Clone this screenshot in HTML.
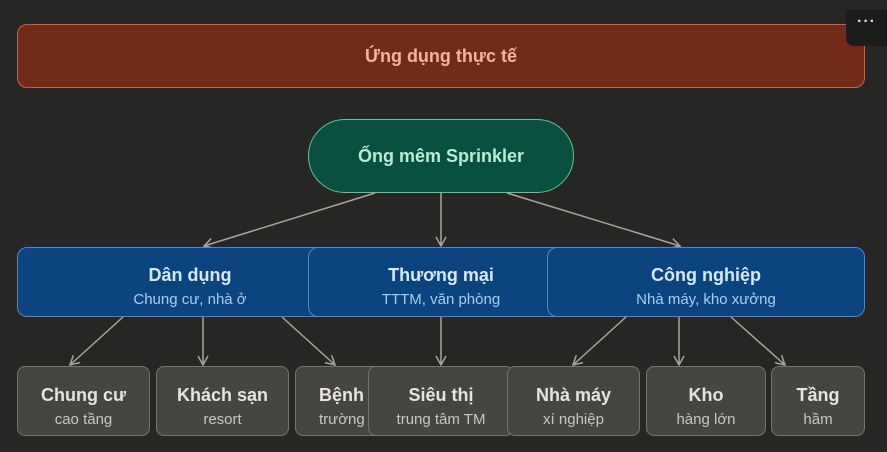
<!DOCTYPE html>
<html><head><meta charset="utf-8"><style>
body{margin:0;width:887px;height:452px;background:#262624;overflow:hidden;font-family:"Liberation Sans","DejaVu Sans",sans-serif;position:relative}
.b{position:absolute;box-sizing:border-box;display:flex;flex-direction:column;align-items:center;justify-content:center;text-align:center}
.top{left:17px;top:24px;width:848px;height:64px;background:#722b16;border:1px solid #c0654a;border-radius:10px;color:#f2b49c;font-size:18px;font-weight:bold}
.root{left:308px;top:119px;width:266px;height:74px;background:#0a5040;border:1.5px solid #5cc49c;border-radius:37px;color:#b8ecd6;font-size:18px;font-weight:bold}
.mid{top:247px;height:70px;padding-top:8px;background:#0c4480;border:1px solid #4f86c6;border-radius:10px;color:#d6e8fa}
.mid .t{font-size:18px;font-weight:bold;margin-bottom:5px}
.mid .s{font-size:15px;color:#a9cdf2}
.bot{top:366px;height:70px;padding-top:10px;background:#464641;border:1px solid #74736c;border-radius:8px;color:#e6e4dc}
.bot .t{font-size:18px;font-weight:bold;margin-bottom:5px}
.bot .s{font-size:15px;color:#c8c6bd}
.menu{position:absolute;left:846px;top:10px;width:41px;height:36px;background:#1c1c1b;border-radius:0 0 0 8px;color:#ddd;font-size:16px;text-align:center;line-height:24px;font-weight:bold;letter-spacing:1px}
svg{position:absolute;left:0;top:0}
</style></head><body>
<div class="b top">Ứng dụng thực tế</div>
<div class="menu">···</div>
<div class="b root">Ống mêm Sprinkler</div>
<svg width="887" height="452">
<defs><marker id="a" markerWidth="12" markerHeight="12" refX="10" refY="6" orient="auto" markerUnits="userSpaceOnUse"><path d="M1,1 L10,6 L1,11" fill="none" stroke="#a8a59c" stroke-width="1.5"/></marker></defs>
<g stroke="#a8a59c" stroke-width="1.5" fill="none" marker-end="url(#a)">
<line x1="375" y1="193" x2="204" y2="246"/>
<line x1="441" y1="193" x2="441" y2="246"/>
<line x1="507" y1="193" x2="680" y2="246"/>
</g></svg>
<div class="b mid" style="left:17px;width:346px"><div class="t">Dân dụng</div><div class="s">Chung cư, nhà ở</div></div>
<div class="b mid" style="left:308px;width:266px"><div class="t">Thương mại</div><div class="s">TTTM, văn phòng</div></div>
<div class="b mid" style="left:547px;width:318px"><div class="t">Công nghiệp</div><div class="s">Nhà máy, kho xưởng</div></div>
<svg width="887" height="452">
<g stroke="#a8a59c" stroke-width="1.5" fill="none" marker-end="url(#a)">
<line x1="123" y1="317" x2="70" y2="365"/>
<line x1="203" y1="317" x2="203" y2="365"/>
<line x1="282" y1="317" x2="335" y2="365"/>
<line x1="441" y1="317" x2="441" y2="365"/>
<line x1="626" y1="317" x2="573" y2="365"/>
<line x1="679" y1="317" x2="679" y2="365"/>
<line x1="731" y1="317" x2="785" y2="365"/>
</g></svg>
<div class="b bot" style="left:17px;width:133px"><div class="t">Chung cư</div><div class="s">cao tầng</div></div>
<div class="b bot" style="left:156px;width:133px"><div class="t">Khách sạn</div><div class="s">resort</div></div>
<div class="b bot" style="left:295px;width:133px;align-items:flex-start;padding-left:23px"><div class="t">Bệnh viện</div><div class="s">trường học</div></div>
<div class="b bot" style="left:368px;width:146px"><div class="t">Siêu thị</div><div class="s">trung tâm TM</div></div>
<div class="b bot" style="left:507px;width:133px"><div class="t">Nhà máy</div><div class="s">xí nghiệp</div></div>
<div class="b bot" style="left:646px;width:120px"><div class="t">Kho</div><div class="s">hàng lớn</div></div>
<div class="b bot" style="left:771px;width:94px"><div class="t">Tầng</div><div class="s">hầm</div></div>
</body></html>
